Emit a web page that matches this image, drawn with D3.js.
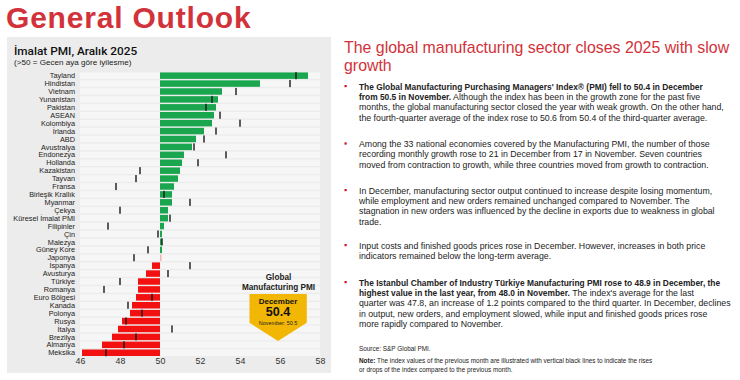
<!DOCTYPE html>
<html>
<head>
<meta charset="utf-8">
<script src="https://cdn.jsdelivr.net/npm/d3@7"></script>
<style>
  html, body { margin: 0; padding: 0; background: #ffffff; }
  svg { display: block; font-family: "Liberation Sans", Arial, sans-serif; }
</style>
</head>
<body>
<svg id="chart" width="740" height="380"></svg>
<script>
const countries = ["Tayland","Hindistan","Vietnam","Yunanistan","Pakistan","ASEAN","Kolombiya","İrlanda","ABD","Avustralya","Endonezya","Hollanda","Kazakistan","Tayvan","Fransa","Birleşik Krallık","Myanmar","Çekya","Küresel İmalat PMI","Filipinler","Çin","Malezya","Güney Kore","Japonya","İspanya","Avusturya","Türkiye","Romanya","Euro Bölgesi","Kanada","Polonya","Rusya","İtalya","Brezilya","Almanya","Meksika"];
const decemberValues = [57.4,55.0,53.1,52.9,52.8,52.7,52.6,52.2,51.8,51.6,51.2,51.1,51.0,50.9,50.7,50.6,50.6,50.4,50.4,50.2,50.1,50.1,50.1,50.0,49.6,49.3,48.9,48.9,48.8,48.6,48.5,48.1,47.9,47.6,47.1,46.1];
const novemberValues = [56.8,56.5,53.8,52.6,52.3,53.0,54.0,52.8,52.2,51.7,53.3,51.9,49.0,48.8,47.8,50.2,51.5,48.0,50.5,47.4,49.9,50.1,49.4,48.7,51.5,50.4,48.0,47.2,49.6,48.4,49.1,48.3,50.6,48.8,48.2,47.3];
const axisTicks = [46,48,50,52,54,56,58];

const svg = d3.select("#chart");
const red = "#d2323a";

// Big page title
svg.append("text").attr("x", 6).attr("y", 27.5)
  .attr("font-size", 30).attr("letter-spacing", 0.8).attr("font-weight", "bold").attr("fill", red)
  .text("General Outlook");

// Panel
svg.append("rect").attr("x", 7).attr("y", 37).attr("width", 324).attr("height", 336).attr("fill", "#ececec");

svg.append("text").attr("x", 14).attr("y", 54.5).attr("font-size", 11.8).attr("fill", "#111")
  .attr("font-family", "Roboto, 'Liberation Sans', sans-serif").attr("font-weight", 500)
  .text("İmalat PMI, Aralık 2025");
svg.append("text").attr("x", 14).attr("y", 65).attr("font-size", 8.1).attr("fill", "#222")
  .text("(>50 = Gecen aya göre iyilesme)");

const x = d3.scaleLinear().domain([46, 58]).range([80, 320]);
const y = d3.scaleBand().domain(countries).range([71.7, 356.7]).paddingInner(0.18).paddingOuter(0.09);

const g = svg.append("g");
// tracks
g.selectAll("rect.track").data(countries).enter().append("rect")
  .attr("x", x(46)).attr("width", x(58) - x(46))
  .attr("y", d => y(d)).attr("height", y.bandwidth())
  .attr("fill", "#f6f6f6");

const data = countries.map((c, i) => ({c, v: decemberValues[i], p: novemberValues[i]}));
g.selectAll("rect.bar").data(data).enter().append("rect")
  .attr("x", d => x(Math.min(50, d.v)))
  .attr("width", d => Math.max(Math.abs(x(d.v) - x(50)), d.v === 50 ? 1.5 : 0))
  .attr("y", d => y(d.c)).attr("height", y.bandwidth())
  .attr("fill", d => d.v > 50 ? "#1aa64e" : (d.v < 50 ? "#f21010" : "#f7b3b3"));

g.selectAll("rect.prev").data(data).enter().append("rect")
  .attr("x", d => x(d.p) - 0.7).attr("width", 1.4)
  .attr("y", d => y(d.c) - 0.3).attr("height", y.bandwidth() + 0.6)
  .attr("fill", "#1a1a1a");

g.selectAll("text.lbl").data(countries).enter().append("text")
  .attr("x", 75).attr("y", d => y(d) + y.bandwidth() / 2 + 2.6)
  .attr("text-anchor", "end").attr("font-size", 7.3).attr("fill", "#222")
  .text(d => d);

// axis
const axis = d3.axisBottom(x).tickValues(axisTicks).tickSize(0).tickPadding(0).tickFormat(d3.format("d"));
const ag = svg.append("g").attr("transform", "translate(0,358)").call(axis);
ag.select(".domain").remove();
ag.selectAll("text").attr("font-size", 8.8).attr("fill", "#333").attr("font-family", "'Liberation Sans', Arial, sans-serif");

// badge
svg.append("text").attr("x", 278.5).attr("y", 279.5).attr("text-anchor", "middle")
  .attr("font-size", 8.2).attr("font-weight", "bold").attr("fill", "#222").text("Global");
svg.append("text").attr("x", 278.5).attr("y", 289.5).attr("text-anchor", "middle")
  .attr("font-size", 8.2).attr("font-weight", "bold").attr("fill", "#222").text("Manufacturing PMI");
svg.append("path")
  .attr("d", "M249.5,294 L306.8,294 L306.8,322.8 L278,341 L249.5,322.8 Z")
  .attr("fill", "#f2b705");
svg.append("text").attr("x", 278).attr("y", 304.3).attr("text-anchor", "middle")
  .attr("font-size", 8).attr("font-weight", "bold").attr("fill", "#111").text("December");
svg.append("text").attr("x", 278).attr("y", 316.3).attr("text-anchor", "middle")
  .attr("font-size", 12.6).attr("font-weight", "bold").attr("fill", "#111").text("50.4");
svg.append("text").attr("x", 278).attr("y", 324.6).attr("text-anchor", "middle")
  .attr("font-size", 5.4).attr("fill", "#222").text("November: 50.5");

// right side
svg.append("text").attr("x", 344).attr("y", 52.5).attr("font-size", 15.9).attr("fill", red)
  .text("The global manufacturing sector closes 2025 with slow");
svg.append("text").attr("x", 344).attr("y", 71).attr("font-size", 15.9).attr("fill", red)
  .text("growth");

const bullets = [
  {y: 89.6, lines: [
    [["b","The Global Manufacturing Purchasing Managers' Index® (PMI) fell to 50.4 in December"]],
    [["b","from 50.5 in November."],["n"," Although the index has been in the growth zone for the past five"]],
    [["n","months, the global manufacturing sector closed the year with weak growth. On the other hand,"]],
    [["n","the fourth-quarter average of the index rose to 50.6 from 50.4 of the third-quarter average."]]
  ]},
  {y: 147, lines: [
    [["n","Among the 33 national economies covered by the Manufacturing PMI, the number of those"]],
    [["n","recording monthly growth rose to 21 in December from 17 in November. Seven countries"]],
    [["n","moved from contraction to growth, while three countries moved from growth to contraction."]]
  ]},
  {y: 193.6, lines: [
    [["n","In December, manufacturing sector output continued to increase despite losing momentum,"]],
    [["n","while employment and new orders remained unchanged compared to November. The"]],
    [["n","stagnation in new orders was influenced by the decline in exports due to weakness in global"]],
    [["n","trade."]]
  ]},
  {y: 248.6, lines: [
    [["n","Input costs and finished goods prices rose in December. However, increases in both price"]],
    [["n","indicators remained below the long-term average."]]
  ]},
  {y: 285.6, lines: [
    [["b","The Istanbul Chamber of Industry Türkiye Manufacturing PMI rose to 48.9 in December, the"]],
    [["b","highest value in the last year, from 48.0 in November."],["n"," The index's average for the last"]],
    [["n","quarter was 47.8, an increase of 1.2 points compared to the third quarter. In December, declines"]],
    [["n","in output, new orders, and employment slowed, while input and finished goods prices rose"]],
    [["n","more rapidly compared to November."]]
  ]}
];
const lineStep = 10.35;
bullets.forEach(b => {
  svg.append("rect").attr("x", 344.5).attr("y", b.y - 4.6).attr("width", 2.2).attr("height", 2.2).attr("fill", "#d0101a");
  b.lines.forEach((segs, i) => {
    const t = svg.append("text").attr("x", 359).attr("y", b.y + i * lineStep).attr("fill", "#222");
    segs.forEach(s => t.append("tspan")
      .attr("font-weight", s[0] === "b" ? "bold" : "normal")
      .attr("font-size", s[0] === "b" ? 8.4 : 8.75)
      .text(s[1]));
  });
});

svg.append("text").attr("x", 359).attr("y", 350.5).attr("font-size", 6.4).attr("fill", "#222")
  .text("Source: S&P Global PMI.");
const note1 = svg.append("text").attr("x", 359).attr("y", 363).attr("font-size", 6.4).attr("fill", "#222");
note1.append("tspan").attr("font-weight", "bold").text("Note:");
note1.append("tspan").text(" The index values of the previous month are illustrated with vertical black lines to indicate the rises");
svg.append("text").attr("x", 359).attr("y", 371.5).attr("font-size", 6.4).attr("fill", "#222")
  .text("or drops of the index compared to the previous month.");
</script>
</body>
</html>
